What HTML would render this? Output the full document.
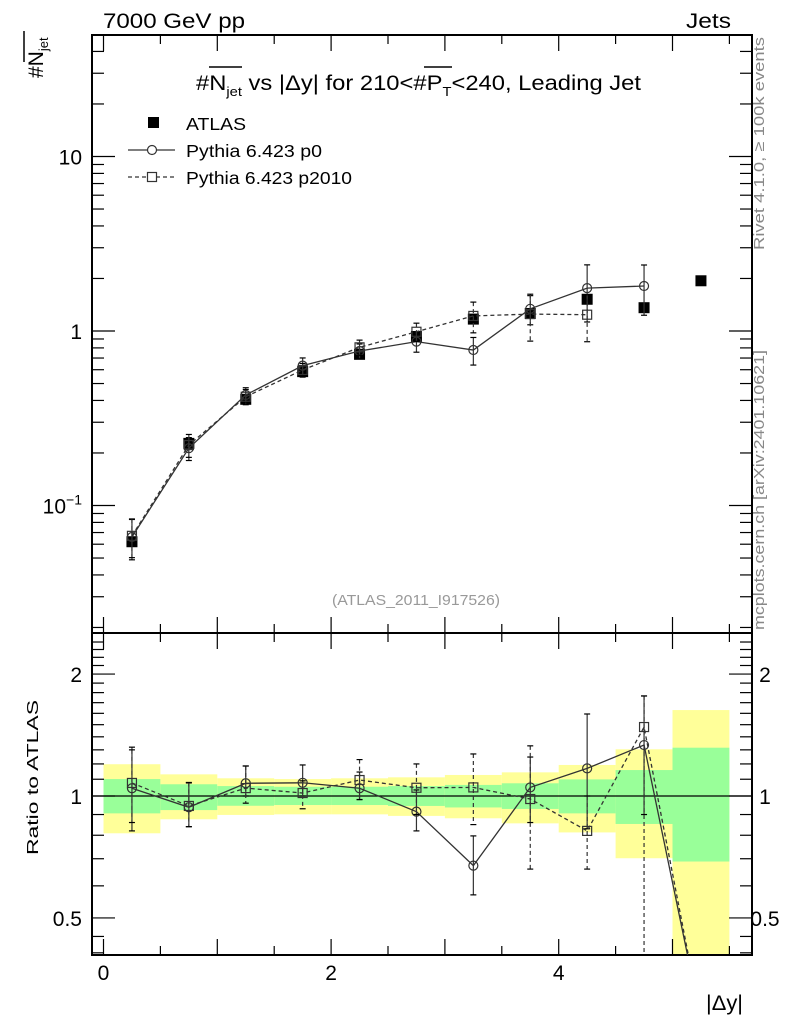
<!DOCTYPE html>
<html><head><meta charset="utf-8"><style>
body{margin:0;background:#fff;}
svg{display:block;font-family:"Liberation Sans",Arial,sans-serif;}
</style></head><body>
<svg id="c" width="786" height="1024" viewBox="0 0 786 1024" xmlns="http://www.w3.org/2000/svg">
<text x="103" y="28" font-size="21" textLength="142" lengthAdjust="spacingAndGlyphs">7000 GeV pp</text>
<text x="686" y="28" font-size="21" textLength="45" lengthAdjust="spacingAndGlyphs">Jets</text>
<g transform="translate(43,78) rotate(-90)">
<text x="0" y="0" font-size="21">#N<tspan font-size="13" dy="5">jet</tspan></text>
<line x1="16" y1="-19" x2="47" y2="-19" stroke="#000" stroke-width="1.5"/>
</g>
<g>
<text x="196" y="90" font-size="21" textLength="445" lengthAdjust="spacingAndGlyphs">#N<tspan font-size="13" dy="6">jet</tspan><tspan dy="-6"> vs |Δy| for 210&lt;#P</tspan><tspan font-size="13" dy="6">T</tspan><tspan dy="-6">&lt;240, Leading Jet</tspan></text>
<line x1="209" y1="67" x2="242" y2="67" stroke="#000" stroke-width="1.5"/>
<line x1="424" y1="67" x2="452" y2="67" stroke="#000" stroke-width="1.5"/>
</g>
<text font-size="15" fill="#888" text-anchor="end" transform="translate(764,37) rotate(-90)" x="0" y="0" textLength="213" lengthAdjust="spacingAndGlyphs">Rivet 4.1.0, ≥ 100k events</text>
<text font-size="15" fill="#888" transform="translate(764,630) rotate(-90)" x="0" y="0" textLength="280" lengthAdjust="spacingAndGlyphs">mcplots.cern.ch [arXiv:2401.10621]</text>
<text x="332" y="605" font-size="15" fill="#999" textLength="168" lengthAdjust="spacingAndGlyphs">(ATLAS_2011_I917526)</text>
<g id="main"></g>
<g id="ratio"></g>
<g>
<rect x="148" y="117" width="11" height="11" fill="#000"/>
<text x="186" y="130" font-size="17.5" textLength="60" lengthAdjust="spacingAndGlyphs">ATLAS</text>
<line x1="128" y1="150" x2="175" y2="150" stroke="#333" stroke-width="1.2"/>
<circle cx="152" cy="150" r="4.5" fill="#fff" stroke="#333" stroke-width="1.2"/>
<text x="186" y="157" font-size="17.5" textLength="136" lengthAdjust="spacingAndGlyphs">Pythia 6.423 p0</text>
<line x1="128" y1="177" x2="175" y2="177" stroke="#333" stroke-width="1.2" stroke-dasharray="4,3"/>
<rect x="147.5" y="172.5" width="9" height="9" fill="#fff" stroke="#333" stroke-width="1.2"/>
<text x="186" y="184" font-size="17.5" textLength="166" lengthAdjust="spacingAndGlyphs">Pythia 6.423 p2010</text>
</g>
<text font-size="16" transform="translate(38,855) rotate(-90)" x="0" y="0" textLength="155" lengthAdjust="spacingAndGlyphs">Ratio to ATLAS</text>
<text x="706" y="1010" font-size="21" textLength="37" lengthAdjust="spacingAndGlyphs">|Δy|</text>
</svg>
<script>
const xCenters=[0.25,0.75,1.25,1.75,2.25,2.75,3.25,3.75,4.25,4.75,5.25];
const atlasVals=[0.062,0.227,0.406,0.585,0.735,0.93,1.17,1.26,1.52,1.36,1.94];
const p0Vals=[0.066,0.213,0.43,0.633,0.768,0.869,0.778,1.34,1.76,1.81];
const p0RelErr=[0.26,0.15,0.10,0.107,0.097,0.13,0.18,0.19,0.36,0.32];
const p2010Vals=[0.067,0.222,0.42,0.598,0.806,0.99,1.22,1.25,1.24];
const p2010RelErr=[0.25,0.15,0.10,0.09,0.10,0.12,0.20,0.30,0.30];
const p0Ratio=[1.045,0.938,1.075,1.078,1.045,0.915,0.673,1.05,1.17,1.336,0.28];
const p0RatioHi=[1.32,1.077,1.186,1.193,1.146,1.035,0.797,1.248,1.594,1.766];
const p0RatioLo=[0.82,0.84,1.0,1.0,0.98,0.82,0.57,0.86,0.83,0.90];
const p2010Ratio=[1.077,0.945,1.046,1.017,1.095,1.048,1.05,0.983,0.82,1.48,0.28];
const p2010RatioHi=[1.30,1.08,1.186,1.09,1.23,1.20,1.27,1.33,1.0,1.766];
const p2010RatioLo=[0.86,0.84,0.96,0.93,0.98,0.90,0.85,0.66,0.66,0.30];
const greenHi=[1.101,1.069,1.058,1.054,1.054,1.058,1.065,1.075,1.099,1.159,1.316];
const greenLo=[0.906,0.923,0.946,0.95,0.95,0.945,0.937,0.929,0.906,0.853,0.689];
const yellowHi=[1.198,1.131,1.106,1.101,1.106,1.112,1.127,1.144,1.193,1.304,1.63];
const yellowLo=[0.809,0.876,0.898,0.901,0.901,0.893,0.881,0.856,0.813,0.702,0.3];
const xTicks=[0,2,4];
const NS="http://www.w3.org/2000/svg";
const X=v=>103.5+v*113.8;
const YM=v=>331-Math.log10(v)*174.5;
const YR=v=>796-Math.log10(v)*405;
const L=92,R=752,MT=35,MB=633,RB=955;
function mk(p,t,a){const e=document.createElementNS(NS,t);for(const k in a)e.setAttribute(k,a[k]);p.appendChild(e);return e;}
const main=document.getElementById('main'),ratio=document.getElementById('ratio');
const svg=document.getElementById('c');
const defs=mk(svg,'defs',{});
const cm=mk(defs,'clipPath',{id:'cm'});mk(cm,'rect',{x:L,y:MT,width:R-L,height:MB-MT});
const cr=mk(defs,'clipPath',{id:'cr'});mk(cr,'rect',{x:L,y:MB,width:R-L,height:RB-MB});
const bands=mk(ratio,'g',{'clip-path':'url(#cr)'});
xCenters.forEach((c,i)=>{
 const y=mk(bands,'rect',{x:X(c-0.25),y:YR(yellowHi[i]),width:113.8/2,height:YR(yellowLo[i])-YR(yellowHi[i]),fill:'#ffff99'});
 
 
 const g=mk(bands,'rect',{x:X(c-0.25),y:YR(greenHi[i]),width:113.8/2,height:YR(greenLo[i])-YR(greenHi[i]),fill:'#99ff99'});
 
 
});
mk(ratio,'line',{x1:L,x2:R,y1:YR(1),y2:YR(1),stroke:'#000','stroke-width':1.3});
mk(main,'rect',{x:L,y:MT,width:R-L,height:MB-MT,fill:'none',stroke:'#000','stroke-width':2});
mk(ratio,'rect',{x:L,y:MB,width:R-L,height:RB-MB,fill:'none',stroke:'#000','stroke-width':2});
function tk(p,x1,y1,x2,y2){mk(p,'line',{x1,y1,x2,y2,stroke:'#000','stroke-width':1.2});}
for(let v=0;v<=5.5;v+=0.5){const x=X(v);const maj=(v%1===0);const l=maj?16:9;
 tk(main,x,MB,x,MB-l);tk(main,x,MT,x,MT+l);tk(ratio,x,RB,x,RB-l);tk(ratio,x,MB,x,MB+l);}
xTicks.forEach(v=>{const t=mk(ratio,'text',{x:X(v),y:980,'font-size':21,'text-anchor':'middle'});t.textContent=v;
 
 });
for(let d=-2;d<=1;d++){for(let m=1;m<10;m++){const v=m*Math.pow(10,d);const y=YM(v);if(y<MT||y>MB)continue;const l=m===1?23:12;tk(main,L,y,L+l,y);tk(main,R,y,R-l,y);}}
[[10,'10'],[1,'1']].forEach(([v,s])=>{const t=mk(main,'text',{x:82,y:YM(v)+8,'font-size':21,'text-anchor':'end'});t.textContent=s;
 
 });
{const t=mk(main,'text',{x:82,y:YM(0.1)+8,'font-size':21,'text-anchor':'end'});t.innerHTML='10<tspan font-size="14" dy="-9">−1</tspan>';
 
 }
[0.5,0.6,0.7,0.8,0.9,1,2].forEach(v=>{const y=YR(v);const maj=(v===0.5||v===1||v===2);const l=maj?23:12;tk(ratio,L,y,L+l,y);tk(ratio,R,y,R-l,y);});
[1.1,1.2,1.3,1.4,1.5,1.6,1.7,1.8,1.9,2.1,2.2,2.3,2.4,0.45,0.41].forEach(v=>{const y=YR(v);if(y<MB||y>RB)return;tk(ratio,L,y,L+12,y);tk(ratio,R,y,R-12,y);});
[[2,'2'],[1,'1'],[0.5,'0.5']].forEach(([v,s])=>{
 const t=mk(ratio,'text',{x:82,y:YR(v)+8,'font-size':21,'text-anchor':'end'});t.textContent=s;
 
 
 const t2=mk(ratio,'text',{x:765,y:YR(v)+8,'font-size':21,'text-anchor':'middle'});t2.textContent=s;
 
 });
function series(p,clip,vals,Y,hi,lo,dash,marker,name){
 const g=mk(p,'g',{'clip-path':clip});
 
 
 const pts=vals.map((v,i)=>X(xCenters[i])+','+Y(v)).join(' ');
 mk(g,'polyline',{points:pts,fill:'none',stroke:'#333','stroke-width':1.3,'stroke-dasharray':dash});
 vals.forEach((v,i)=>{if(hi[i]===undefined)return;const x=X(xCenters[i]);
  mk(g,'line',{x1:x,x2:x,y1:Y(hi[i]),y2:Y(lo[i]),stroke:'#333','stroke-width':1.2,'stroke-dasharray':dash});
  tk(g,x-3,Y(hi[i]),x+3,Y(hi[i]));tk(g,x-3,Y(lo[i]),x+3,Y(lo[i]));
  let m;
  if(marker==='c')m=mk(g,'circle',{cx:x,cy:Y(v),r:4.5,fill:'none',stroke:'#333','stroke-width':1.2});
  else m=mk(g,'rect',{x:x-4.5,y:Y(v)-4.5,width:9,height:9,fill:'none',stroke:'#333','stroke-width':1.2});
  
  });
}
xCenters.forEach((c,i)=>{const v=atlasVals[i];const r=mk(main,'rect',{x:X(c)-5.5,y:YM(v)-5.5,width:11,height:11,fill:'#000'});
 
 });
series(main,'url(#cm)',p0Vals,YM,p0Vals.map((v,i)=>v*(1+p0RelErr[i])),p0Vals.map((v,i)=>v*(1-p0RelErr[i])),'','c','p0-series');
series(main,'url(#cm)',p2010Vals,YM,p2010Vals.map((v,i)=>v*(1+p2010RelErr[i])),p2010Vals.map((v,i)=>v*(1-p2010RelErr[i])),'4,3','s','p2010-series');
series(ratio,'url(#cr)',p0Ratio,YR,p0RatioHi,p0RatioLo,'','c','p0-ratio');
series(ratio,'url(#cr)',p2010Ratio,YR,p2010RatioHi,p2010RatioLo,'4,3','s','p2010-ratio');
</script>
</body></html>
